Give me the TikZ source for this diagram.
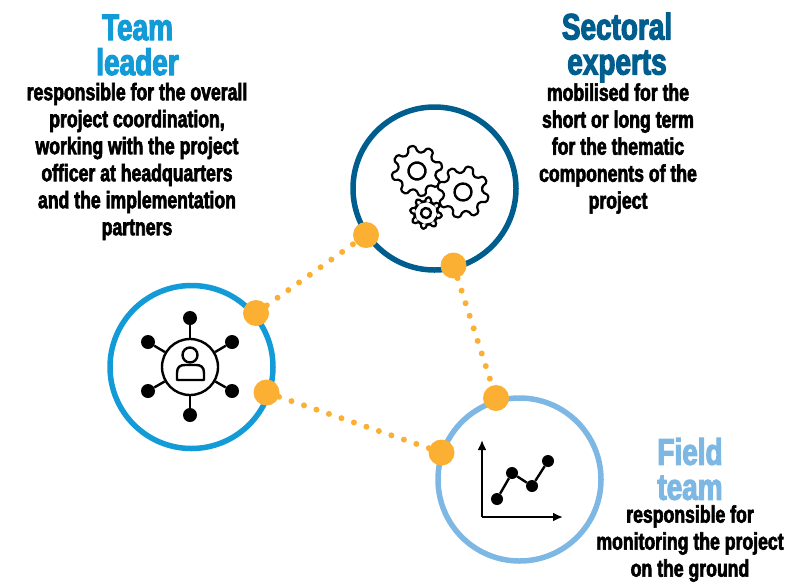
\documentclass[tikz,border=0pt]{standalone}
\usepackage{fontspec}
\usetikzlibrary{arrows.meta}
\setmainfont{Liberation Sans}
\newfontfamily\heavy{Liberation Sans}[UprightFont=* Bold,FakeStretch=0.735,FakeBold=2.5]
\newfontfamily\heavyhead{Liberation Sans}[UprightFont=* Bold,FakeStretch=0.755,FakeBold=3]
\definecolor{teamc}{HTML}{139BD7}
\definecolor{sectc}{HTML}{005E8E}
\definecolor{fieldc}{HTML}{7DB7E4}
\definecolor{dotc}{HTML}{FBB034}
\tikzset{
  ring/.style={circle,draw=#1,line width=5.5pt,minimum size=163pt,inner sep=0pt,fill=white},
  joint/.style={circle,fill=dotc,minimum size=26pt,inner sep=0pt},
  link/.style={draw=dotc,line width=6pt,line cap=round,dash pattern=on 0pt off 13.2pt},
  title/.style={align=center,font=\heavyhead\fontsize{37}{35}\selectfont,inner sep=0pt},
  body/.style={align=center,font=\heavy\fontsize{24}{27}\selectfont,text=black,inner sep=0pt},
  icon/.style={draw=black,line width=2.4pt,line join=round},
  hub/.style={circle,fill=black,minimum size=14pt,inner sep=0pt},
  pt/.style={circle,fill=black,minimum size=12pt,inner sep=0pt},
  geartooth/.style={draw=black,line width=2.2pt,rounded corners=1.6pt,fill=white},
}
\newcommand{\mygear}[7]{% x,y,router,rinner,teeth,hole,rot
  \begin{scope}[shift={(#1,#2)},rotate=#7]
  \pgfmathsetmacro{\st}{360/#5}
  \path[geartooth] (0:#4)
  \foreach \k in {1,...,#5}{
    -- ({(\k-1)*\st+0.12*\st}:#4)
    -- ({(\k-1)*\st+0.28*\st}:#3)
    -- ({(\k-1)*\st+0.62*\st}:#3)
    -- ({(\k-1)*\st+0.78*\st}:#4)
  } -- cycle;
  \draw[icon] (0,0) circle (#6);
  \end{scope}}
\begin{document}
\begin{tikzpicture}[x=1pt,y=-1pt]
\useasboundingbox (0,0) rectangle (791,582);
% rings
\node[ring=teamc]  (team)  at (191.5,367) {};
\node[ring=sectc]  (sect)  at (434.5,188.5) {};
\node[ring=fieldc] (field) at (519.5,479.5) {};
% joints
\coordinate (ja) at (366,235);
\coordinate (jb) at (453.5,265.5);
\coordinate (jc) at (256,313);
\coordinate (jd) at (266.5,392.5);
\coordinate (je) at (496,398);
\coordinate (jf) at (441.5,452.5);
\path[link] (jc) -- (ja);
\path[link] (jb) -- (je);
\path[link] (jd) -- (jf);
\node[joint] (j1) at (ja) {};
\node[joint] (j2) at (jb) {};
\node[joint] (j3) at (jc) {};
\node[joint] (j4) at (jd) {};
\node[joint] (j5) at (je) {};
\node[joint] (j6) at (jf) {};
% gears
\mygear{417}{171}{25.5}{19}{8}{8.5}{-12}
\mygear{463}{192}{26}{19.5}{8}{8.5}{5}
\mygear{426}{213}{16}{11.5}{8}{5}{10}
% team icon
\node[circle,draw=black,line width=2.4pt,minimum size=56pt,inner sep=0pt] (hubc) at (190,367) {};
\foreach \n/\x/\y in {ha/190/318,hb/148/342,hc/232/342,hd/148/391,he/232/391,hf/190/415}{
  \node[hub] (\n) at (\x,\y) {};
  \draw[icon] (\n) -- (hubc);
}
\draw[icon] (190,355) circle (7.5);
\draw[icon] (177,380) -- (177,373) .. controls (177,367) and (180,365) .. (185,365) -- (196,365) .. controls (201,365) and (204,367) .. (204,373) -- (204,380) -- cycle;
% chart icon
\coordinate (org) at (482,517);
\coordinate (ytop) at (482,440);
\coordinate (xend) at (563,517);
\draw[icon,-{Latex[length=10pt,width=9pt]}] (org) -- (ytop);
\draw[icon,-{Latex[length=10pt,width=9pt]}] (org) -- (xend);
\node[pt] (p1) at (497,499) {};
\node[pt] (p2) at (512,473) {};
\node[pt] (p3) at (532,486) {};
\node[pt] (p4) at (548,461) {};
\draw[icon] (p1) -- (p2) -- (p3) -- (p4);
% texts
\node[title,text=teamc] (t1) at (137.5,45) {Team\\leader};
\node[body] (b1) at (137,161.5) {responsible for the overall\\project coordination,\\working with the project\\officer at headquarters\\and the implementation\\partners};
\node[title,text=sectc] (t2) at (617,47.5) {Sectoral\\experts};
\node[body] (b2) at (618,148.5) {mobilised for the\\short or long term\\for the thematic\\components of the\\project};
\node[title,text=fieldc] (t3) at (690,469) {Field\\team};
\node[body] (b3) at (690,543.5) {responsible for\\monitoring the project\\on the ground};
\end{tikzpicture}
\end{document}
